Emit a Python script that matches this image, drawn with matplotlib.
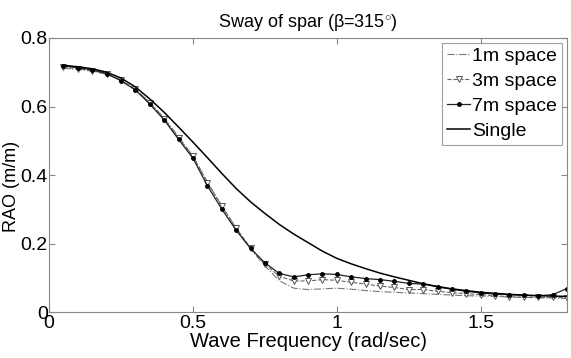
import matplotlib
matplotlib.use("Agg")
import matplotlib.pyplot as plt
import numpy as np

plt.rcParams['font.family'] = ['Liberation Sans', 'DejaVu Sans']
plt.rcParams['mathtext.fontset'] = 'custom'
plt.rcParams['mathtext.rm'] = 'Liberation Sans'

# wave frequency (rad/sec), every 0.05
freq = [0.05, 0.10, 0.15, 0.20, 0.25, 0.30, 0.35, 0.40, 0.45, 0.50,
        0.55, 0.60, 0.65, 0.70, 0.75, 0.80, 0.85, 0.90, 0.95, 1.00,
        1.05, 1.10, 1.15, 1.20, 1.25, 1.30, 1.35, 1.40, 1.45, 1.50,
        1.55, 1.60, 1.65, 1.70, 1.75, 1.80]

rao_1m = [0.712, 0.708, 0.703, 0.694, 0.676, 0.650, 0.612, 0.566, 0.512, 0.455,
          0.380, 0.310, 0.245, 0.185, 0.135, 0.092, 0.070, 0.066, 0.068, 0.070,
          0.067, 0.063, 0.060, 0.058, 0.056, 0.054, 0.052, 0.050, 0.048, 0.047,
          0.046, 0.044, 0.043, 0.042, 0.041, 0.040]

rao_3m = [0.715, 0.710, 0.705, 0.695, 0.677, 0.650, 0.611, 0.563, 0.508, 0.455,
          0.378, 0.310, 0.245, 0.188, 0.140, 0.105, 0.091, 0.091, 0.095, 0.093,
          0.087, 0.082, 0.076, 0.072, 0.066, 0.066, 0.061, 0.057, 0.054, 0.051,
          0.048, 0.045, 0.044, 0.043, 0.043, 0.042]

rao_7m = [0.719, 0.713, 0.707, 0.696, 0.675, 0.648, 0.607, 0.561, 0.504, 0.449,
          0.369, 0.301, 0.239, 0.186, 0.144, 0.113, 0.103, 0.109, 0.112, 0.110,
          0.103, 0.098, 0.095, 0.090, 0.084, 0.082, 0.074, 0.067, 0.061, 0.056,
          0.053, 0.051, 0.049, 0.048, 0.051, 0.069]

rao_single = [0.720, 0.716, 0.710, 0.700, 0.683, 0.657, 0.622, 0.583, 0.540, 0.496,
              0.451, 0.405, 0.361, 0.322, 0.288, 0.256, 0.228, 0.203, 0.178, 0.157,
              0.141, 0.127, 0.114, 0.103, 0.093, 0.083, 0.075, 0.068, 0.063, 0.058,
              0.055, 0.052, 0.050, 0.048, 0.047, 0.046]

fig = plt.figure(figsize=(5.71, 3.58), dpi=100)
ax = fig.add_axes([0.086, 0.128, 0.907, 0.766])

ax.plot(freq, rao_1m, color='#777777', linestyle='-.', linewidth=0.8, label='1m space')
ax.plot(freq, rao_3m, color='#666666', linestyle='--', linewidth=0.8, marker='v',
        markersize=4, markerfacecolor='white', markeredgecolor='#555555',
        markeredgewidth=0.7, label='3m space')
ax.plot(freq, rao_7m, color='#222222', linestyle='-', linewidth=0.9, marker='o',
        markersize=2.5, markerfacecolor='black', markeredgecolor='black', label='7m space')
ax.plot(freq, rao_single, color='black', linestyle='-', linewidth=1.1, label='Single')

ax.set_xlim(0, 1.8)
ax.set_ylim(0, 0.8)
ax.set_xticks([0, 0.5, 1, 1.5])
ax.set_xticklabels(['0', '0.5', '1', '1.5'])
ax.set_yticks([0, 0.2, 0.4, 0.6, 0.8])
ax.set_yticklabels(['0', '0.2', '0.4', '0.6', '0.8'])
ax.tick_params(direction='in', top=True, right=True, labelsize=14, length=4,
               color='#888888', pad=2)
ax.tick_params(axis='y', pad=1)
for sp in ax.spines.values():
    sp.set_color('#888888')

ax.set_xlabel('Wave Frequency (rad/sec)', fontsize=14.5, labelpad=0)
ax.set_ylabel('RAO (m/m)', fontsize=13)
ax.yaxis.set_label_coords(-0.057, 0.46)
ax.set_title('Sway of spar (\u03b2=315$^{\\circ}$)', fontsize=13, pad=8)

leg = ax.legend(loc='upper right', fontsize=14, handlelength=1.2, handletextpad=0.1,
                borderpad=0.25, labelspacing=0.38, fancybox=False, borderaxespad=0.25)
leg.get_frame().set_edgecolor('#888888')
leg.get_frame().set_linewidth(0.8)

fig.savefig('out.png', dpi=100)
